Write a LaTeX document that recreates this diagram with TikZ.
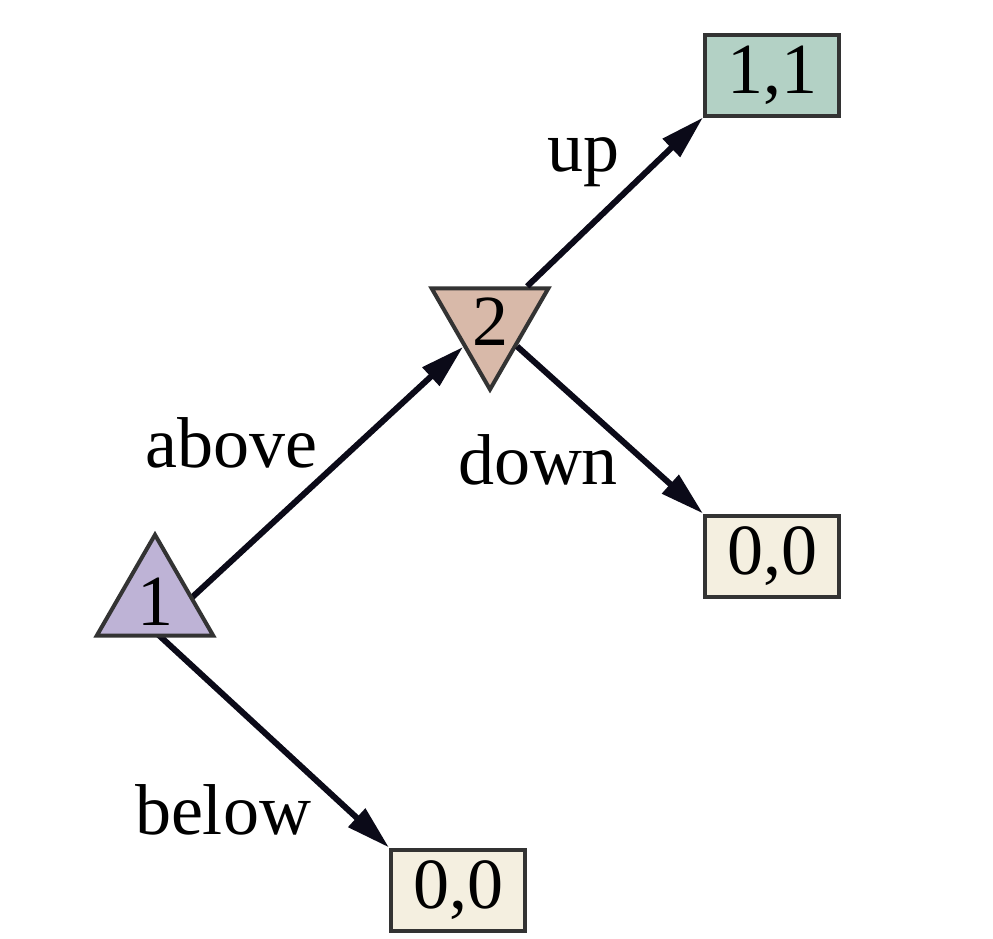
\documentclass[tikz,border=0pt]{standalone}
\usepackage{fontspec}
\setmainfont{Liberation Serif}
\usetikzlibrary{shapes.geometric, arrows.meta, backgrounds}

\definecolor{moveA}{HTML}{BEB3D6}
\definecolor{moveB}{HTML}{D8B9A9}
\definecolor{payHi}{HTML}{B3D1C5}
\definecolor{payLo}{HTML}{F4EFE0}
\definecolor{rim}{HTML}{333333}
\definecolor{ink}{HTML}{0B0A18}

\begin{document}
\begin{tikzpicture}[x=0.5pt, y=-0.5pt,
		font=\fontsize{36}{40}\selectfont,
		player/.style={regular polygon, regular polygon sides=3, minimum size=61pt,
			inner sep=0pt, draw=rim, line width=2pt},
		payoff/.style={rectangle, minimum width=67pt, minimum height=40.5pt,
			inner sep=0pt, draw=rim, line width=2pt, fill=payLo},
		edge/.style={draw=ink, line width=3pt, -{Triangle[length=22pt, width=12pt]}}]
		\useasboundingbox (0, 0) rectangle (993, 939);

		% decision nodes
		\node[player, fill=moveA] (p1) at (155, 602) {1};
		\node[player, fill=moveB, shape border rotate=180] (p2) at (490, 322) {2};

		% payoffs
		\node[payoff, fill=payHi] (upPay) at (772, 75) {1,1};
		\node[payoff] (downPay) at (772, 556) {0,0};
		\node[payoff] (belowPay) at (458, 890) {0,0};

		\begin{scope}[on background layer]
			\draw[edge] ([yshift=3pt]p1.south) -- (p2);
			\draw[edge] ([yshift=3pt]p1.south) -- (belowPay.north west);
		\end{scope}
		\draw[edge] (p2) -- (upPay.south west);
		\draw[edge] (p2) -- (downPay.north west);

		% move labels
		\node (lAbove) at (231, 443) {above};
		\node (lBelow) at (223, 810) {below};
		\node (lUp) at (583, 162) {up};
		\node (lDown) at (538, 460) {down};
	\end{tikzpicture}
\end{document}
